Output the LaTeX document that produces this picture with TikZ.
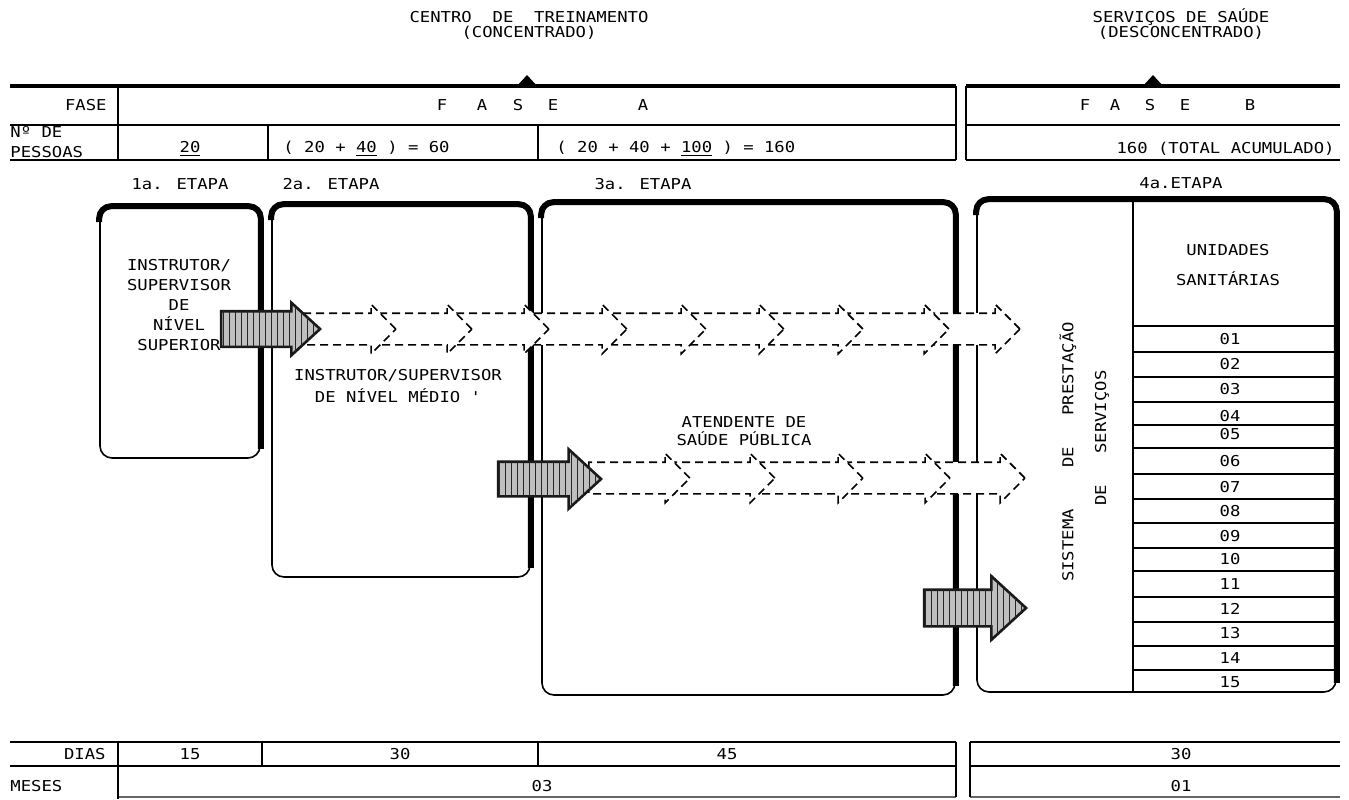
\documentclass[tikz,border=0pt]{standalone}
\usepackage{fontspec}
\newfontfamily\tw[FakeStretch=1.15]{DejaVu Sans Mono}
\usetikzlibrary{shapes.arrows,patterns}
\begin{document}
\begin{tikzpicture}[x=0.5pt,y=-0.5pt,
  txt/.style={font=\tw\fontsize{7.5}{9}\selectfont, inner sep=0pt},
  etapa/.style={draw, line width=0.8pt, rounded corners=6pt, inner sep=0pt},
  heavy/.style={line width=3pt, rounded corners=6pt},
  rule/.style={line width=0.9pt},
  thickrule/.style={line width=1.6pt},
  chain/.style={single arrow, draw, line width=0.8pt, dash pattern=on 4pt off 2.5pt, fill=white, inner xsep=0pt, inner ysep=7.5pt, single arrow head extend=4.5pt},
  grayarrow/.style={single arrow, draw=black!90, line width=1.3pt, fill=gray!50, inner xsep=0pt, single arrow tip angle=85, postaction={pattern=vertical lines, pattern color=black!85}}]
\useasboundingbox (0,0) rectangle (1349,799);
% titles
\node[txt] (t1) at (529,17) {CENTRO\ \ DE\ \ TREINAMENTO};
\node[txt] (t2) at (529,33) {(CONCENTRADO)};
\node[txt] (t3) at (1181,17) {SERVIÇOS DE SAÚDE};
\node[txt] (t4) at (1181,33) {(DESCONCENTRADO)};
% header table
\draw[thickrule] (10,86) -- (956,86);
\fill (516,87) -- (527,75) -- (538,87) -- cycle;
\draw[thickrule] (966,86) -- (1340,86);
\fill (1142,87) -- (1153,75) -- (1164,87) -- cycle;
\draw[rule] (10,125) -- (956,125) (966,125) -- (1340,125);
\draw[rule] (10,160) -- (956,160) (966,160) -- (1340,160);
\draw[rule] (118,86) -- (118,160) (268,125) -- (268,160) (538,125) -- (538,160);
\draw[rule] (956,86) -- (956,160) (966,86) -- (966,160);
\node[txt, anchor=east] (fase) at (107,105) {FASE};
\foreach \l/\x [count=\i] in {F/442,A/482,S/518,E/553,A/643}
  \node[txt] (fa\i) at (\x,105) {\l};
\foreach \l/\x [count=\i] in {F/1085,A/1115,S/1150,E/1185,B/1250}
  \node[txt] (fb\i) at (\x,105) {\l};
\node[txt, anchor=west] (np1) at (10,132) {Nº DE};
\node[txt, anchor=west] (np2) at (10,152) {PESSOAS};
\node[txt] (p1) at (190,149) {\underline{20}};
\node[txt, anchor=west] (p2) at (283,149) {( 20 + \underline{40} ) = 60};
\node[txt, anchor=west] (p3) at (556,149) {( 20 + 40 + \underline{100} ) = 160};
\node[txt, anchor=east] (p4) at (1335,149) {160 (TOTAL ACUMULADO)};
% etapa labels
\node[txt] (e1) at (180,184) {1a. ETAPA};
\node[txt] (e2) at (331,184) {2a. ETAPA};
\node[txt] (e3) at (643,184) {3a. ETAPA};
\node[txt] (e4) at (1181,183) {4a.ETAPA};
% boxes
\node[etapa, minimum width=80pt, minimum height=125.5pt] (b1) at (180,332.5) {};
\node[etapa, minimum width=129pt, minimum height=186pt] (b2) at (401,391) {};
\node[etapa, minimum width=206.5pt, minimum height=246pt] (b3) at (748.5,449) {};
\node[etapa, minimum width=179.5pt, minimum height=246pt] (b4) at (1156.5,446) {};
\foreach \b in {b1,b2,b3,b4}
  \draw[heavy] ([yshift=-8pt]\b.north west) -- (\b.north west) -- (\b.north east) -- ([yshift=5pt]\b.south east);
% box texts
\node[txt, align=center, font=\tw\fontsize{7.5}{10}\selectfont] (tb1) at (179,305) {INSTRUTOR/\\SUPERVISOR\\DE\\NÍVEL\\SUPERIOR};
\node[txt, align=center, font=\tw\fontsize{7.5}{11}\selectfont] (tb2) at (398,386) {INSTRUTOR/SUPERVISOR\\DE NÍVEL MÉDIO '};
\node[txt, align=center, font=\tw\fontsize{7.5}{9}\selectfont] (tb3) at (744,431) {ATENDENTE DE\\SAÚDE PÚBLICA};
% box 4 content
\draw[rule] (1133,200) -- (1133,692);
\node[txt, align=center, font=\tw\fontsize{7.5}{15}\selectfont] (us) at (1228,265) {UNIDADES\\SANITÁRIAS};
\foreach \y in {326,352,377,402,425,448,474,499,523,548,571,597,622,646,670}
  \draw[line width=0.7pt] (1133,\y) -- (1338,\y);
\foreach \n/\y in {01/339,02/364,03/389,04/416,05/434,06/461,07/487,08/511,09/536,10/559,11/584,12/609,13/633,14/658,15/682}
  \node[txt] (u\n) at (1230,\y) {\n};
\node[txt, rotate=90] (s1) at (1068,452) {SISTEMA\ \ \ \ DE\ \ \ PRESTAÇÃO};
\node[txt, rotate=90] (s2) at (1102,438) {DE\ \ \ SERVIÇOS};
% dashed chains (right to left so the left heads lie on top)
\foreach \s/\t/\n in {935/1021/9,849/950/8,770/864/7,692/785/6,613/707/5,535/628/4,458/550/3,382/473/2,300/397/1}
  \node[chain, minimum height={(\t-\s)*0.5pt}, anchor=tip] (ca\n) at (\t,329) {};
\foreach \s/\t/\n in {936/1026/5,849/951/4,761/864/3,676/776/2,590/691/1}
  \node[chain, minimum height={(\t-\s)*0.5pt}, anchor=tip] (cb\n) at (\t,478) {};
% gray arrows
\node[grayarrow, minimum height=49.5pt, inner ysep=8.25pt, single arrow head extend=4.25pt, anchor=tip] (g1) at (322,329) {};
\node[grayarrow, minimum height=51.5pt, inner ysep=8pt, single arrow head extend=6.25pt, anchor=tip] (g2) at (603,479) {};
\node[grayarrow, minimum height=51pt, inner ysep=8.5pt, single arrow head extend=6.75pt, anchor=tip] (g3) at (1028,608) {};
% bottom table
\draw[rule] (10,742) -- (956,742) (970,742) -- (1340,742);
\draw[rule] (10,766) -- (956,766) (970,766) -- (1340,766);
\draw[line width=0.6pt, black!60] (118,797) -- (956,797) (970,797) -- (1340,797);
\draw[rule] (118,742) -- (118,799) (262,742) -- (262,766) (538,742) -- (538,766);
\draw[rule] (956,742) -- (956,797) (970,742) -- (970,797);
\node[txt, anchor=east] (dias) at (106,754) {DIAS};
\node[txt] (d1) at (190,754) {15};
\node[txt] (d2) at (400,754) {30};
\node[txt] (d3) at (727,754) {45};
\node[txt] (d4) at (1181,754) {30};
\node[txt, anchor=west] (meses) at (10,786) {MESES};
\node[txt] (m1) at (542,786) {03};
\node[txt] (m2) at (1181,786) {01};
\end{tikzpicture}
\end{document}
